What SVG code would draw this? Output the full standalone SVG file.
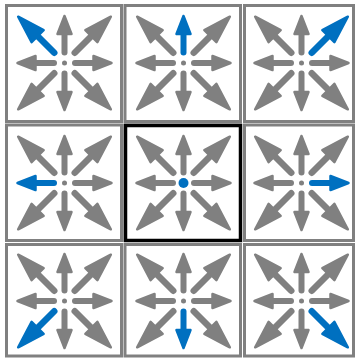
<svg xmlns="http://www.w3.org/2000/svg" xmlns:xlink="http://www.w3.org/1999/xlink" width="356" height="359" viewBox="0 0 356 359">
<style>
.frame{fill:#fff;stroke:#808080;stroke-width:3}
.frame-c{fill:none;stroke:#000;stroke-width:3.5}
.g{color:#808080}
.b{color:#0070C0}
</style>
<defs>
<g id="ao" fill="currentColor" stroke="currentColor">
<line x1="0" y1="-10.5" x2="0" y2="-31" stroke-width="6" stroke-linecap="round"/>
<polygon points="0,-47 -7,-29 7,-29" stroke-width="2.5" stroke-linejoin="round"/>
</g>
<g id="ad" fill="currentColor" stroke="currentColor">
<line x1="0" y1="-14.5" x2="0" y2="-41" stroke-width="6.5" stroke-linecap="round"/>
<polygon points="0,-65.5 -8.5,-38 8.5,-38" stroke-width="2.5" stroke-linejoin="round"/>
</g>
</defs>
<rect width="356" height="359" fill="#fff"/>
<g id="cell-0-0">
<rect class="frame" x="6.5" y="5.5" width="115" height="116"/>
<g transform="translate(64.5,63)">
<use xlink:href="#ao" class="g"/><use xlink:href="#ao" class="g" transform="rotate(90)"/><use xlink:href="#ao" class="g" transform="rotate(180)"/><use xlink:href="#ao" class="g" transform="rotate(270)"/>
<use xlink:href="#ad" class="g" transform="rotate(45)"/><use xlink:href="#ad" class="g" transform="rotate(135)"/><use xlink:href="#ad" class="g" transform="rotate(225)"/><use xlink:href="#ad" class="b" transform="rotate(315)"/>
<circle r="2.5" fill="#808080"/>
</g>
</g>
<g id="cell-0-1">
<rect class="frame" x="125" y="5.5" width="115.5" height="116"/>
<g transform="translate(183.5,63)">
<use xlink:href="#ao" class="b"/><use xlink:href="#ao" class="g" transform="rotate(90)"/><use xlink:href="#ao" class="g" transform="rotate(180)"/><use xlink:href="#ao" class="g" transform="rotate(270)"/>
<use xlink:href="#ad" class="g" transform="rotate(45)"/><use xlink:href="#ad" class="g" transform="rotate(135)"/><use xlink:href="#ad" class="g" transform="rotate(225)"/><use xlink:href="#ad" class="g" transform="rotate(315)"/>
<circle r="2.5" fill="#808080"/>
</g>
</g>
<g id="cell-0-2">
<rect class="frame" x="244.5" y="5.5" width="109" height="116"/>
<g transform="translate(301.5,63)">
<use xlink:href="#ao" class="g"/><use xlink:href="#ao" class="g" transform="rotate(90)"/><use xlink:href="#ao" class="g" transform="rotate(180)"/><use xlink:href="#ao" class="g" transform="rotate(270)"/>
<use xlink:href="#ad" class="b" transform="rotate(45)"/><use xlink:href="#ad" class="g" transform="rotate(135)"/><use xlink:href="#ad" class="g" transform="rotate(225)"/><use xlink:href="#ad" class="g" transform="rotate(315)"/>
<circle r="2.5" fill="#808080"/>
</g>
</g>
<g id="cell-1-0">
<rect class="frame" x="6.5" y="125" width="115" height="115.5"/>
<g transform="translate(64.5,183)">
<use xlink:href="#ao" class="g"/><use xlink:href="#ao" class="g" transform="rotate(90)"/><use xlink:href="#ao" class="g" transform="rotate(180)"/><use xlink:href="#ao" class="b" transform="rotate(270)"/>
<use xlink:href="#ad" class="g" transform="rotate(45)"/><use xlink:href="#ad" class="g" transform="rotate(135)"/><use xlink:href="#ad" class="g" transform="rotate(225)"/><use xlink:href="#ad" class="g" transform="rotate(315)"/>
<circle r="2.5" fill="#808080"/>
</g>
</g>
<g id="cell-1-2">
<rect class="frame" x="244.5" y="125" width="109" height="115.5"/>
<g transform="translate(301.5,183)">
<use xlink:href="#ao" class="g"/><use xlink:href="#ao" class="b" transform="rotate(90)"/><use xlink:href="#ao" class="g" transform="rotate(180)"/><use xlink:href="#ao" class="g" transform="rotate(270)"/>
<use xlink:href="#ad" class="g" transform="rotate(45)"/><use xlink:href="#ad" class="g" transform="rotate(135)"/><use xlink:href="#ad" class="g" transform="rotate(225)"/><use xlink:href="#ad" class="g" transform="rotate(315)"/>
<circle r="2.5" fill="#808080"/>
</g>
</g>
<g id="cell-2-0">
<rect class="frame" x="6.5" y="244.5" width="115" height="111.5"/>
<g transform="translate(64.5,301)">
<use xlink:href="#ao" class="g"/><use xlink:href="#ao" class="g" transform="rotate(90)"/><use xlink:href="#ao" class="g" transform="rotate(180)"/><use xlink:href="#ao" class="g" transform="rotate(270)"/>
<use xlink:href="#ad" class="g" transform="rotate(45)"/><use xlink:href="#ad" class="g" transform="rotate(135)"/><use xlink:href="#ad" class="b" transform="rotate(225)"/><use xlink:href="#ad" class="g" transform="rotate(315)"/>
<circle r="2.5" fill="#808080"/>
</g>
</g>
<g id="cell-2-1">
<rect class="frame" x="125" y="244.5" width="115.5" height="111.5"/>
<g transform="translate(183.5,301)">
<use xlink:href="#ao" class="g"/><use xlink:href="#ao" class="g" transform="rotate(90)"/><use xlink:href="#ao" class="b" transform="rotate(180)"/><use xlink:href="#ao" class="g" transform="rotate(270)"/>
<use xlink:href="#ad" class="g" transform="rotate(45)"/><use xlink:href="#ad" class="g" transform="rotate(135)"/><use xlink:href="#ad" class="g" transform="rotate(225)"/><use xlink:href="#ad" class="g" transform="rotate(315)"/>
<circle r="2.5" fill="#808080"/>
</g>
</g>
<g id="cell-2-2">
<rect class="frame" x="244.5" y="244.5" width="109" height="111.5"/>
<g transform="translate(301.5,301)">
<use xlink:href="#ao" class="g"/><use xlink:href="#ao" class="g" transform="rotate(90)"/><use xlink:href="#ao" class="g" transform="rotate(180)"/><use xlink:href="#ao" class="g" transform="rotate(270)"/>
<use xlink:href="#ad" class="g" transform="rotate(45)"/><use xlink:href="#ad" class="b" transform="rotate(135)"/><use xlink:href="#ad" class="g" transform="rotate(225)"/><use xlink:href="#ad" class="g" transform="rotate(315)"/>
<circle r="2.5" fill="#808080"/>
</g>
</g>
<g id="cell-1-1">
<rect class="frame" x="125" y="125" width="115.5" height="115.5"/>
<g transform="translate(183.5,183)">
<use xlink:href="#ao" class="g"/><use xlink:href="#ao" class="g" transform="rotate(90)"/><use xlink:href="#ao" class="g" transform="rotate(180)"/><use xlink:href="#ao" class="g" transform="rotate(270)"/>
<use xlink:href="#ad" class="g" transform="rotate(45)"/><use xlink:href="#ad" class="g" transform="rotate(135)"/><use xlink:href="#ad" class="g" transform="rotate(225)"/><use xlink:href="#ad" class="g" transform="rotate(315)"/>
<circle r="5" fill="#0070C0"/>
</g>
<rect class="frame-c" x="125.5" y="125.5" width="115" height="115"/>
</g>
<g id="connectors"/>
</svg>
